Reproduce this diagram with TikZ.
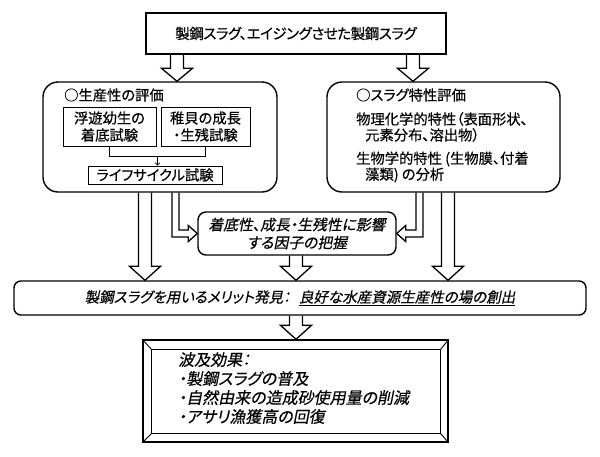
\documentclass[tikz,border=0pt]{standalone}
\usepackage{fontspec}
\setmainfont{Noto Sans CJK JP}[RawFeature=+palt, FakeBold=0.4]
\newfontfamily\jpit{Noto Sans CJK JP}[RawFeature=+palt, FakeSlant=0.2, FakeBold=0.4]
\usetikzlibrary{calc,arrows.meta}
\newcommand\fatdown[4][14]{%
  \draw[fat] let \p1=(#3), \p2=(#4) in
   ({#2pt-6.5pt},\y1) -- ({#2pt-6.5pt},{\y2+#1pt}) -- ({#2pt-15.5pt},{\y2+#1pt}) -- (#2pt,\y2)
   -- ({#2pt+15.5pt},{\y2+#1pt}) -- ({#2pt+6.5pt},{\y2+#1pt}) -- ({#2pt+6.5pt},\y1);}
\begin{document}
\begin{tikzpicture}[x=1pt,y=-1pt,
  font=\fontsize{14.3}{17}\selectfont,
  box/.style={draw, line width=1.4pt, inner sep=0pt},
  ibox/.style={draw, line width=0.9pt, inner sep=0pt, align=center},
  txt/.style={inner sep=0pt, anchor=west},
  fat/.style={line width=1.3pt, line join=miter},
  thinline/.style={line width=0.7pt}]
\useasboundingbox (0,0) rectangle (600,456);

% boxes
\node[box, minimum width=300, minimum height=41, font=\fontsize{14.5}{17}\selectfont\addfontfeatures{LetterSpace=-3}] (top) at (296,33.5) {製鋼スラグ、エイジングさせた製鋼スラグ};
\node[box, rounded corners=15pt, minimum width=234, minimum height=110] (lbox) at (160,137) {};
\node[box, rounded corners=15pt, minimum width=233, minimum height=110] (rbox) at (443.5,137) {};
\node[box, rounded corners=8pt, minimum width=198, minimum height=43, align=center,
  font=\jpit\fontsize{14.8}{18}\selectfont] (mid) at (297,233.5) {着底性、成長・生残性に影響\\する因子の把握};
\node[box, rounded corners=7pt, minimum width=572, minimum height=34,
  font=\jpit\fontsize{14.5}{17}\selectfont] (wide) at (300,298)
  {製鋼スラグを用いるメリット発見：\hspace{0.6em}\underline{良好な水産資源生産性の場の創出}};
\node[box, minimum width=305, minimum height=102] (bev) at (295.5,391) {};

% bevel frame
\coordinate (iNW) at ($(bev.north west)+(9,10)$);
\coordinate (iSE) at ($(bev.south east)+(-8,-9)$);
\coordinate (iNE) at (iSE |- iNW);
\coordinate (iSW) at (iNW |- iSE);
\draw[line width=1.2pt] (iNW) rectangle (iSE);
\draw[line width=0.9pt] (bev.north west) -- (iNW) (bev.north east) -- (iNE)
  (bev.south west) -- (iSW) (bev.south east) -- (iSE);
\node[inner sep=0pt, anchor=north west, align=left,
  font=\jpit\fontsize{16}{19}\selectfont] (effects) at (178,352)
  {波及効果：\\・製鋼スラグの普及\\・自然由来の造成砂使用量の削減\\・アサリ漁獲高の回復};

% left box content
\node[txt] (ltitle) at (64,95) {○生産性の評価};
\node[ibox, minimum width=93, minimum height=39] (b1) at (109.5,126.5) {浮遊幼生の\\着底試験};
\node[ibox, minimum width=89, minimum height=39] (b2) at (205.5,126.5) {稚貝の成長\\・生残試験};
\node[ibox, minimum width=134, minimum height=18] (b3) at (155,175) {ライフサイクル試験};
\coordinate (bm) at ($(b1.south)!0.5!(b2.south)+(0,10)$);
\draw[thinline] (b1.south) -- ++(0,10) -| (b2.south);
\draw[thinline, -{To[length=3pt,width=5pt]}] (bm) -- (bm |- b3.north);

% right box content
\node[txt] (rtitle) at (356,95) {○スラグ特性評価};
\node[txt] (r1) at (356,119) {物理化学的特性（表面形状、};
\node[txt] (r2) at (365,135) {元素分布、溶出物）};
\node[txt] (r3) at (356,159) {生物学的特性 (生物膜、付着};
\node[txt] (r4) at (365,175) {藻類) の分析};

% fat arrows
\fatdown[13]{177}{top.south}{lbox.north}
\fatdown[13]{413}{top.south}{rbox.north}
\fatdown{145}{lbox.south}{wide.north}
\fatdown{448}{rbox.south}{wide.north}
\fatdown{296}{mid.south}{wide.north}
\fatdown{296}{wide.south}{bev.north}

% bent arrows into the middle box
\draw[fat] let \p1=(lbox.south), \p2=(mid.west) in
  (172pt,\y1) -- (172pt,{\y2-3.5pt}) -- ({\x2-9pt},{\y2-3.5pt}) -- ({\x2-9pt},{\y2-8pt})
  -- (\x2,\y2) -- ({\x2-9pt},{\y2+8pt}) -- ({\x2-9pt},{\y2+3.5pt}) -- (179pt,{\y2+3.5pt}) -- (179pt,\y1);
\draw[fat] let \p1=(rbox.south), \p2=(mid.east) in
  (423pt,\y1) -- (423pt,{\y2-3.5pt}) -- ({\x2+9pt},{\y2-3.5pt}) -- ({\x2+9pt},{\y2-8pt})
  -- (\x2,\y2) -- ({\x2+9pt},{\y2+8pt}) -- ({\x2+9pt},{\y2+3.5pt}) -- (416pt,{\y2+3.5pt}) -- (416pt,\y1);
\end{tikzpicture}
\end{document}
